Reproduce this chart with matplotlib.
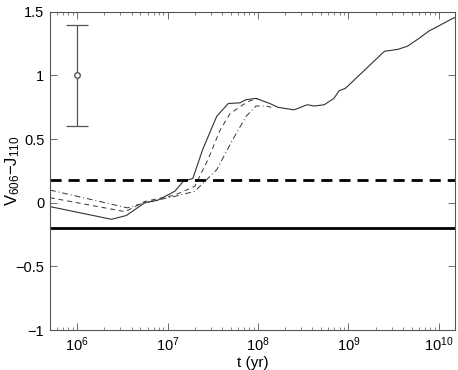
import matplotlib
matplotlib.use("Agg")
import matplotlib.pyplot as plt

plt.rcParams['font.family'] = ['Liberation Sans', 'DejaVu Sans']
plt.rcParams['mathtext.fontset'] = 'custom'
plt.rcParams['mathtext.rm'] = 'Liberation Sans'
plt.rcParams['mathtext.it'] = 'Liberation Sans:italic'

t_solid = [5e5, 2.4e6, 3.5e6, 5.6e6, 7.8e6, 1.2e7, 1.5e7, 1.9e7, 2.45e7, 3.5e7, 4.7e7,
           6.3e7, 7.4e7, 9.5e7, 1.35e8, 1.66e8, 2.5e8, 3.5e8, 4.2e8, 5.4e8, 6.9e8,
           7.9e8, 9.3e8, 2.5e9, 3.5e9, 4.5e9, 6.0e9, 7.8e9, 1.0e10, 1.35e10, 1.5e10]
y_solid = [-0.03, -0.13, -0.10, 0.0, 0.02, 0.09, 0.17, 0.19, 0.42, 0.68, 0.78,
           0.785, 0.81, 0.82, 0.78, 0.75, 0.73, 0.77, 0.76, 0.77, 0.82,
           0.88, 0.90, 1.19, 1.205, 1.23, 1.29, 1.35, 1.39, 1.44, 1.455]

t_dash = [5e5, 3.4e6, 5.6e6, 1.2e7, 2.0e7, 2.8e7, 3.8e7, 4.9e7, 6.8e7, 8.1e7, 1.0e8]
y_dash = [0.04, -0.07, 0.01, 0.06, 0.13, 0.34, 0.57, 0.70, 0.77, 0.80, 0.82]

t_dashdot = [5e5, 3.6e6, 5.6e6, 1.2e7, 2.0e7, 3.5e7, 5.2e7, 7.4e7, 9.5e7, 1.23e8, 1.4e8]
y_dashdot = [0.10, -0.04, 0.0, 0.05, 0.09, 0.26, 0.49, 0.68, 0.76, 0.76, 0.75]

hline_dashed = 0.18
hline_solid = -0.2

err_t = 1e6
err_y = 1.0
err_size = 0.4

fig = plt.figure(figsize=(4.58, 3.70), dpi=100)
ax = fig.add_axes([0.109, 0.108, 0.884, 0.860])

lc = '#333333'
ax.plot(t_solid, y_solid, color=lc, lw=0.8, ls='-')
ax.plot(t_dash, y_dash, color=lc, lw=0.7, ls=(0, (5, 4)))
ax.plot(t_dashdot, y_dashdot, color=lc, lw=0.7, ls=(0, (6, 3, 1, 3)))

ax.axhline(hline_dashed, color='black', lw=2, ls=(0, (4, 2.5)))
ax.axhline(hline_solid, color='black', lw=2, ls='-')

ax.errorbar([err_t], [err_y], yerr=[err_size], fmt='o', mfc='white', mec='#555555',
            ms=4, color='#555555', ecolor='#555555', elinewidth=0.9, capsize=8, capthick=0.9)

ax.set_xscale('log')
ax.set_xlim(5e5, 1.5e10)
ax.set_ylim(-1, 1.5)
ax.set_yticks([-1, -0.5, 0, 0.5, 1, 1.5])
ax.set_yticklabels(['\u22121', '\u22120.5', '0', '0.5', '1', '1.5'])
ax.set_xticks([1e6, 1e7, 1e8, 1e9, 1e10])

ax.tick_params(which='both', direction='in', top=True, right=True, labelsize=10.5,
               color='#555555')
ax.tick_params(which='major', length=5, width=0.6, pad=4)
ax.tick_params(which='minor', length=2.5, width=0.5)
for s in ax.spines.values():
    s.set_color('#555555')
    s.set_linewidth(0.8)

ax.set_xlabel('t (yr)', fontsize=11, labelpad=1)
ax.set_ylabel('V$_{606}$\u2212J$_{110}$', fontsize=12)
ax.yaxis.set_label_coords(-0.068, 0.5)

fig.savefig('out.png', dpi=100)
